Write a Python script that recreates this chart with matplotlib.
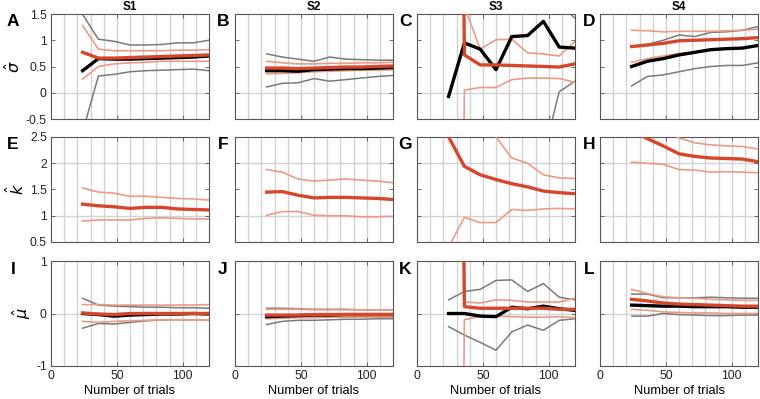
import matplotlib
matplotlib.use('Agg')
import matplotlib.pyplot as plt
import numpy as np

plt.rcParams['font.family'] = ['Liberation Sans', 'DejaVu Sans']
plt.rcParams['mathtext.fontset'] = 'dejavusans'

# number of trials on the x axis
n_trials = [24, 36, 48, 60, 72, 84, 96, 108, 120]
subjects = ['S1', 'S2', 'S3', 'S4']

# sigma hat (row 1), one list per subject
sigma_red_mid = [
    [0.77, 0.66, 0.66, 0.67, 0.68, 0.69, 0.70, 0.71, 0.72],
    [0.47, 0.47, 0.46, 0.47, 0.48, 0.49, 0.49, 0.50, 0.51],
    [30.0, 0.72, 0.53, 0.53, 0.52, 0.51, 0.50, 0.49, 0.55],
    [0.88, 0.91, 0.94, 0.99, 1.00, 1.01, 1.02, 1.03, 1.05],
]
sigma_red_hi = [
    [1.28, 0.83, 0.80, 0.80, 0.80, 0.80, 0.81, 0.81, 0.82],
    [0.60, 0.57, 0.55, 0.55, 0.56, 0.56, 0.57, 0.57, 0.58],
    [40.0, 1.65, 0.83, 1.01, 1.02, 0.76, 0.74, 0.70, 0.98],
    [1.19, 1.18, 1.16, 1.17, 1.17, 1.17, 1.18, 1.19, 1.21],
]
sigma_red_lo = [
    [0.26, 0.50, 0.55, 0.57, 0.58, 0.60, 0.60, 0.60, 0.60],
    [0.36, 0.37, 0.38, 0.40, 0.41, 0.42, 0.43, 0.43, 0.44],
    [-30.0, 0.05, 0.10, 0.10, 0.25, 0.28, 0.28, 0.27, 0.20],
    [0.58, 0.65, 0.70, 0.75, 0.78, 0.82, 0.85, 0.86, 0.90],
]
sigma_black = [
    [0.42, 0.65, 0.64, 0.64, 0.65, 0.66, 0.67, 0.68, 0.70],
    [0.42, 0.42, 0.41, 0.44, 0.45, 0.46, 0.46, 0.47, 0.48],
    [-0.07, 0.95, 0.83, 0.44, 1.07, 1.09, 1.36, 0.87, 0.85],
    [0.50, 0.60, 0.65, 0.72, 0.77, 0.82, 0.84, 0.85, 0.90],
]
sigma_gray_hi = [
    [1.49, 1.02, 0.98, 0.91, 0.91, 0.92, 0.95, 0.95, 1.00],
    [0.74, 0.68, 0.64, 0.60, 0.68, 0.64, 0.63, 0.62, 0.62],
    [3.0, 3.2, 3.5, 3.0, 2.8, 2.6, 2.4, 1.70, 1.42],
    [0.88, 0.92, 1.00, 1.10, 1.07, 1.15, 1.16, 1.19, 1.26],
]
sigma_gray_lo = [
    [-0.75, 0.32, 0.35, 0.40, 0.42, 0.43, 0.44, 0.45, 0.42],
    [0.11, 0.18, 0.19, 0.27, 0.22, 0.25, 0.28, 0.31, 0.33],
    [-2.0, -2.5, -2.5, -2.0, -2.0, -1.8, -1.2, 0.02, 0.22],
    [0.13, 0.31, 0.34, 0.40, 0.46, 0.50, 0.52, 0.52, 0.57],
]

# k hat (row 2)
k_red_mid = [
    [1.22, 1.19, 1.17, 1.14, 1.16, 1.16, 1.13, 1.12, 1.11],
    [1.45, 1.46, 1.39, 1.34, 1.35, 1.35, 1.34, 1.33, 1.31],
    [2.50, 1.94, 1.78, 1.69, 1.61, 1.55, 1.47, 1.44, 1.42],
    [2.62, 2.47, 2.33, 2.18, 2.13, 2.10, 2.09, 2.08, 2.03],
]
k_red_hi = [
    [1.53, 1.45, 1.43, 1.37, 1.37, 1.35, 1.33, 1.32, 1.30],
    [1.88, 1.83, 1.70, 1.66, 1.68, 1.70, 1.68, 1.66, 1.63],
    [4.0, 3.5, 3.0, 2.50, 2.10, 2.00, 1.78, 1.72, 1.71],
    [3.1, 2.9, 2.7, 2.48, 2.39, 2.35, 2.33, 2.32, 2.27],
]
k_red_lo = [
    [0.90, 0.92, 0.92, 0.92, 0.95, 0.96, 0.95, 0.94, 0.94],
    [1.01, 1.08, 1.08, 1.01, 1.00, 1.00, 0.98, 0.98, 0.99],
    [0.40, 0.97, 0.87, 0.87, 1.12, 1.10, 1.13, 1.14, 1.13],
    [2.02, 2.00, 1.98, 1.88, 1.87, 1.83, 1.84, 1.83, 1.82],
]

# mu hat (row 3)
mu_red_mid = [
    [0.01, -0.01, -0.02, 0.0, 0.0, 0.0, 0.0, 0.0, 0.0],
    [-0.03, -0.03, -0.03, -0.02, -0.02, -0.02, -0.02, -0.02, -0.02],
    [30.0, 0.13, 0.10, 0.10, 0.10, 0.10, 0.10, 0.08, 0.08],
    [0.27, 0.24, 0.20, 0.18, 0.17, 0.16, 0.15, 0.14, 0.14],
]
mu_red_hi = [
    [0.17, 0.17, 0.16, 0.16, 0.16, 0.16, 0.16, 0.16, 0.17],
    [0.08, 0.08, 0.08, 0.07, 0.07, 0.07, 0.07, 0.07, 0.07],
    [40.0, 0.22, 0.20, 0.26, 0.25, 0.22, 0.22, 0.22, 0.29],
    [0.46, 0.38, 0.32, 0.30, 0.29, 0.27, 0.26, 0.25, 0.25],
]
mu_red_lo = [
    [-0.15, -0.17, -0.15, -0.14, -0.13, -0.12, -0.12, -0.12, -0.12],
    [-0.10, -0.09, -0.08, -0.08, -0.07, -0.07, -0.07, -0.07, -0.07],
    [-30.0, -0.12, -0.05, -0.05, -0.06, -0.07, -0.07, -0.06, -0.08],
    [0.08, 0.06, 0.03, 0.02, 0.01, 0.01, 0.0, 0.0, 0.0],
]
mu_black = [
    [0.0, -0.02, -0.05, -0.03, -0.02, -0.01, -0.01, 0.0, -0.01],
    [-0.06, -0.05, -0.04, -0.03, -0.03, -0.02, -0.02, -0.02, -0.02],
    [0.0, 0.0, -0.05, -0.06, 0.12, 0.09, 0.14, 0.09, 0.06],
    [0.16, 0.15, 0.14, 0.14, 0.13, 0.13, 0.13, 0.12, 0.12],
]
mu_gray_hi = [
    [0.29, 0.16, 0.14, 0.13, 0.12, 0.12, 0.11, 0.11, 0.10],
    [0.10, 0.10, 0.09, 0.08, 0.08, 0.08, 0.07, 0.07, 0.07],
    [0.26, 0.42, 0.46, 0.63, 0.64, 0.42, 0.57, 0.31, 0.26],
    [0.37, 0.37, 0.30, 0.30, 0.30, 0.31, 0.30, 0.29, 0.29],
]
mu_gray_lo = [
    [-0.28, -0.19, -0.20, -0.17, -0.14, -0.12, -0.12, -0.12, -0.12],
    [-0.21, -0.15, -0.13, -0.13, -0.12, -0.11, -0.11, -0.10, -0.10],
    [-0.25, -0.41, -0.55, -0.70, -0.35, -0.22, -0.32, -0.13, -0.10],
    [-0.05, -0.05, 0.0, -0.02, -0.03, -0.04, -0.04, -0.03, -0.03],
]

rows = [
    dict(mid=sigma_red_mid, hi=sigma_red_hi, lo=sigma_red_lo, black=sigma_black,
         ghi=sigma_gray_hi, glo=sigma_gray_lo, ylim=(-0.5, 1.5),
         yticks=[-0.5, 0, 0.5, 1, 1.5], yticklabels=['-0.5', '0', '0.5', '1', '1.5'],
         hlines=[0], ylabel=r'$\hat{\sigma}$'),
    dict(mid=k_red_mid, hi=k_red_hi, lo=k_red_lo, black=None,
         ghi=None, glo=None, ylim=(0.5, 2.5),
         yticks=[0.5, 1, 1.5, 2, 2.5], yticklabels=['0.5', '1', '1.5', '2', '2.5'],
         hlines=[1, 2], ylabel=r'$\hat{k}$'),
    dict(mid=mu_red_mid, hi=mu_red_hi, lo=mu_red_lo, black=mu_black,
         ghi=mu_gray_hi, glo=mu_gray_lo, ylim=(-1, 1),
         yticks=[-1, 0, 1], yticklabels=['-1', '0', '1'],
         hlines=[0], ylabel=r'$\hat{\mu}$'),
]

red = '#d6462a'
light_red = '#eb9a86'
gray = '#7a7a7a'
grid_col = '#d2d2d2'
axis_col = '#555555'

fig = plt.figure(figsize=(7.6, 3.99), dpi=100)
W, H = 760.0, 399.0
lefts = [51, 235, 417, 600]
tops = [14, 137, 261]
aw, ah = 158, 105
letters = 'ABCDEFGHIJKL'
letter_x = [13, 223, 405, 589]

for r, row in enumerate(rows):
    for c in range(4):
        ax = fig.add_axes([lefts[c] / W, 1 - (tops[r] + ah) / H, aw / W, ah / H])
        for xv in range(10, 120, 10):
            ax.axvline(xv, color=grid_col, lw=1.0, zorder=0)
        for yv in row['hlines']:
            ax.axhline(yv, color=grid_col, lw=1.0, zorder=0)
        if row['ghi'] is not None:
            ax.plot(n_trials, row['ghi'][c], color=gray, lw=1.1, zorder=2)
            ax.plot(n_trials, row['glo'][c], color=gray, lw=1.1, zorder=2)
        ax.plot(n_trials, row['hi'][c], color=light_red, lw=1.2, zorder=3)
        ax.plot(n_trials, row['lo'][c], color=light_red, lw=1.2, zorder=3)
        if row['black'] is not None:
            ax.plot(n_trials, row['black'][c], color='black', lw=2.4, zorder=4)
        ax.plot(n_trials, row['mid'][c], color=red, lw=2.4, zorder=5)

        ax.set_xlim(0, 120)
        ax.set_ylim(*row['ylim'])
        ax.set_xticks([0, 50, 100])
        ax.set_yticks(row['yticks'])
        ax.tick_params(direction='in', length=3, width=0.6, colors=axis_col,
                       labelcolor='#222222', labelsize=8.8, top=True, right=True, pad=3)
        for sp in ax.spines.values():
            sp.set_color(axis_col)
            sp.set_linewidth(0.8)
        if c == 0:
            ax.set_yticklabels(row['yticklabels'])
            ax.set_ylabel(row['ylabel'], fontsize=11.5, labelpad=2)
        else:
            ax.set_yticklabels([])
        if r == 2:
            ax.set_xticklabels(['0', '50', '100'])
            ax.set_xlabel('Number of trials', fontsize=9.3, labelpad=2)
        else:
            ax.set_xticklabels([])
        if r == 0:
            ax.set_title(subjects[c], fontsize=8.5, fontweight='bold', pad=3)
        fig.text(letter_x[c] / W, 1 - (tops[r] + 8) / H, letters[r * 4 + c],
                 fontsize=12.5, fontweight='bold', ha='center', va='center')

fig.savefig('out.png', dpi=100)
